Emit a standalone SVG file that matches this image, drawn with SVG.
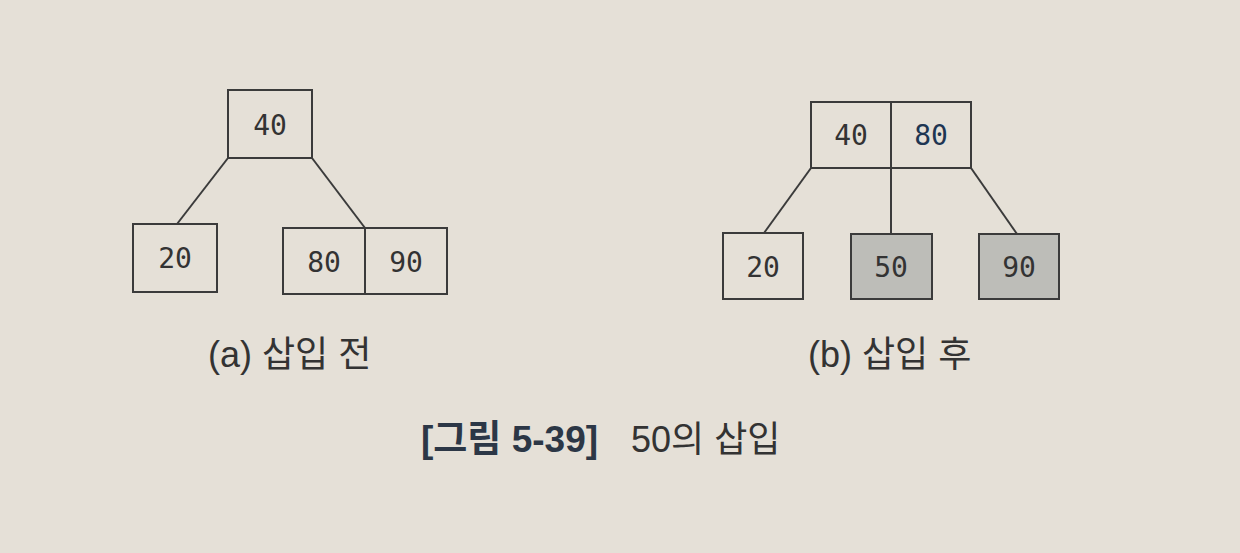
<svg xmlns="http://www.w3.org/2000/svg" width="1240" height="553" viewBox="0 0 1240 553">
<style>
.box{fill:none;stroke:#3b3b3b;stroke-width:2}
.shade{fill:#bdbdb8;stroke:#3b3b3b;stroke-width:2}
.edge{stroke:#3b3b3b;stroke-width:2;fill:none}
.num{font-family:"DejaVu Sans Mono","Liberation Mono",monospace;font-size:28px;fill:#333;text-anchor:middle;dominant-baseline:central}
.cap{font-family:"Liberation Sans","Noto Sans CJK KR",sans-serif;font-size:36px;fill:#333}
.fig{font-family:"Liberation Sans","Noto Sans CJK KR",sans-serif;font-size:37px;fill:#2c3746;font-weight:bold}
</style>
<rect width="1240" height="553" fill="#e5e0d7"/>
<g id="connectors">
<line class="edge" x1="228" y1="158" x2="177" y2="224"/>
<line class="edge" x1="312" y1="158" x2="365" y2="228"/>
<line class="edge" x1="811" y1="168" x2="764" y2="233"/>
<line class="edge" x1="891" y1="168" x2="891" y2="234"/>
<line class="edge" x1="971" y1="168" x2="1017" y2="234"/>
</g>
<g id="a-root">
<rect class="box" x="228" y="90" width="84" height="68"/>
<text class="num" x="270" y="125">40</text>
</g>
<g id="a-left">
<rect class="box" x="133" y="224" width="84" height="68"/>
<text class="num" x="175" y="258">20</text>
</g>
<g id="a-right">
<rect class="box" x="283" y="228" width="164" height="66"/>
<line class="edge" x1="365" y1="228" x2="365" y2="294"/>
<text class="num" x="324" y="262">80</text>
<text class="num" x="406" y="262">90</text>
</g>
<g id="b-root">
<rect class="box" x="811" y="102" width="160" height="66"/>
<line class="edge" x1="891" y1="102" x2="891" y2="168"/>
<text class="num" x="851" y="135">40</text>
<text class="num" x="931" y="135" style="fill:#1e3652">80</text>
</g>
<g id="b-left">
<rect class="box" x="723" y="233" width="80" height="66"/>
<text class="num" x="763" y="267">20</text>
</g>
<g id="b-mid">
<rect class="shade" x="851" y="234" width="81" height="65"/>
<text class="num" x="891" y="267">50</text>
</g>
<g id="b-right">
<rect class="shade" x="979" y="234" width="80" height="65"/>
<text class="num" x="1019" y="267">90</text>
</g>
<g id="captions">
<text class="cap" x="208" y="367">(a) 삽입 전</text>
<text class="cap" x="808" y="367">(b) 삽입 후</text>
<text class="fig" x="421" y="452">[그림 5-39]</text>
<text class="cap" x="631" y="452">50의 삽입</text>
</g>
</svg>
